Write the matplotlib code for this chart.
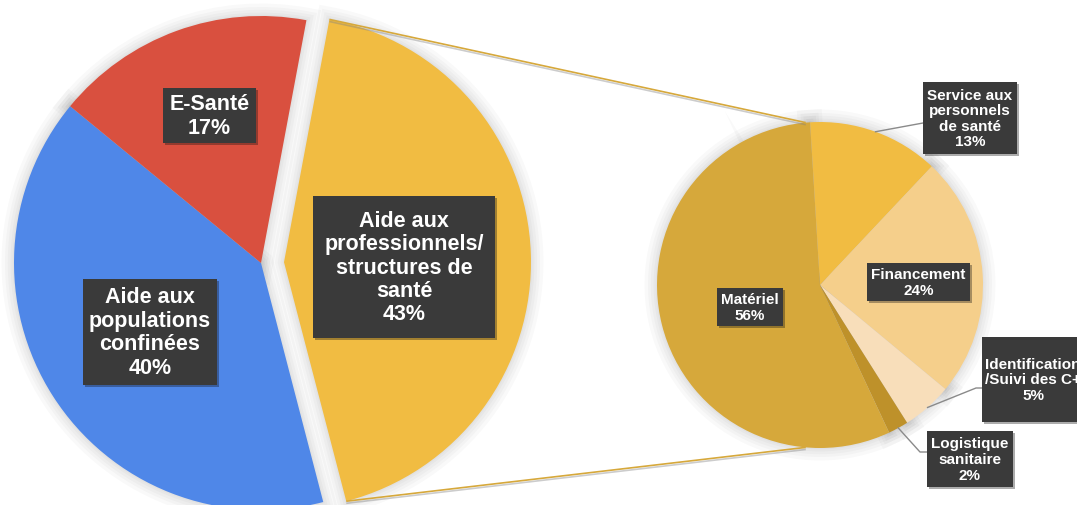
import numpy as np
import matplotlib.pyplot as plt
import matplotlib.patheffects as pe
from matplotlib.patches import Rectangle

W, H = 1077, 505

# Data
main_labels = ["Aide aux\nprofessionnels/\nstructures de\nsanté", "Aide aux\npopulations\nconfinées", "E-Santé"]
main_values = [43, 40, 17]
main_colors = ["#F1BC42", "#4F87E8", "#D9503F"]

detail_labels = ["Service aux\npersonnels\nde santé", "Financement", "Identification\n/Suivi des C+",
                 "Logistique\nsanitaire", "Matériel"]
detail_values = [13, 24, 5, 2, 56]
detail_colors = ["#F1BC42", "#F5CF8B", "#F8DEBA", "#BE912A", "#D6A83B"]

# Layout (pixels, y down)
big_c, big_r, big_start, big_gap = (261, 263), 247, 79.4, 23
small_c, small_r, small_start = (820, 285), 163, 93.5
main_label_pos = [(404, 267), (150, 332), (209.5, 115.5)]
main_box_size = [(182, 142), (134, 106), (93, 55)]
detail_label_pos = [(970, 118), (918.5, 282), (1033, 379.5), (969.5, 459), (750, 307)]
detail_box_size = [(94, 72), (103, 38), (102, 85), (86, 56), (66, 38)]
detail_leaders = [[(923, 123)], None, [(976, 388), (982, 388)], [(920, 452), (927, 452)], None]

FONT = ["Liberation Sans", "DejaVu Sans"]

fig = plt.figure(figsize=(W / 100, H / 100), dpi=100)
fig.patch.set_facecolor("white")


def pie_axes(center, r, pad=1.3):
    cx, cy = center
    ax = fig.add_axes([(cx - pad * r) / W, (H - cy - pad * r) / H, 2 * pad * r / W, 2 * pad * r / H])
    return ax, pad


def draw_pie(center, r, values, colors, start, explode):
    ax, pad = pie_axes(center, r)
    # soft shadow: strokes only, the real pie covers the inside
    halo = [pe.Stroke(linewidth=lw, foreground="black", alpha=0.025) for lw in (18, 13, 9, 5, 2)]
    ax.pie(values, colors=["none"] * len(values), startangle=start, counterclock=False,
           explode=explode, wedgeprops=dict(linewidth=0, path_effects=halo))
    ax.pie(values, colors=colors, startangle=start, counterclock=False,
           explode=explode, wedgeprops=dict(linewidth=0))
    ax.set_xlim(-pad, pad)
    ax.set_ylim(-pad, pad)
    ax.set_aspect("auto")
    ax.axis("off")
    return ax


main_explode = [big_gap / big_r, 0, 0]
draw_pie(big_c, big_r, main_values, main_colors, big_start, main_explode)
draw_pie(small_c, small_r, detail_values, detail_colors, small_start, None)

# Overlay in pixel coordinates
ov = fig.add_axes([0, 0, 1, 1], zorder=5)
ov.set_xlim(0, W)
ov.set_ylim(H, 0)
ov.axis("off")
ov.patch.set_alpha(0)


def px(center, r, ang):
    a = np.radians(ang)
    return center[0] + r * np.cos(a), center[1] - r * np.sin(a)


# connectors from exploded slice to detail pie
sweep = main_values[0] / sum(main_values) * 360
mid = np.radians(big_start - sweep / 2)
yc = (big_c[0] + big_gap * np.cos(mid), big_c[1] - big_gap * np.sin(mid))
for a_big, a_small in [(big_start, 95), (big_start - sweep, -95)]:
    x0, y0 = px(yc, big_r, a_big)
    x1, y1 = px(small_c, small_r, a_small)
    ov.plot([x0, x1], [y0, y1], color="#D6A83B", lw=1.2, solid_capstyle="butt",
            path_effects=[pe.SimpleLineShadow(offset=(0, -1.5), shadow_color="gray", alpha=0.4), pe.Normal()])


def label(x, y, size_wh, txt, size):
    w, h = size_wh
    box = Rectangle((x - w / 2, y - h / 2), w, h, fc="#3A3A3A", ec="none", zorder=3)
    box.set_path_effects([pe.SimplePatchShadow(offset=(1.5, -1.5), alpha=0.35), pe.Normal()])
    ov.add_patch(box)
    ov.text(x, y + 1, txt, ha="center", va="center", color="white", fontsize=size,
            fontweight="bold", family=FONT, linespacing=1.15, zorder=4)


for lab, v, (x, y), wh in zip(main_labels, main_values, main_label_pos, main_box_size):
    label(x, y, wh, f"{lab}\n{v}%", 15.5)

tot = sum(detail_values)
ang = small_start
for lab, v, (x, y), wh, lead in zip(detail_labels, detail_values, detail_label_pos, detail_box_size, detail_leaders):
    sw = v / tot * 360
    if lead:
        p0 = px(small_c, small_r, ang - sw / 2)
        pts = [p0] + lead
        ov.plot([p[0] for p in pts], [p[1] for p in pts], color="#8A8A8A", lw=1)
    ang -= sw
    label(x, y, wh, f"{lab}\n{v}%", 11)

fig.savefig("out.png", dpi=100)
